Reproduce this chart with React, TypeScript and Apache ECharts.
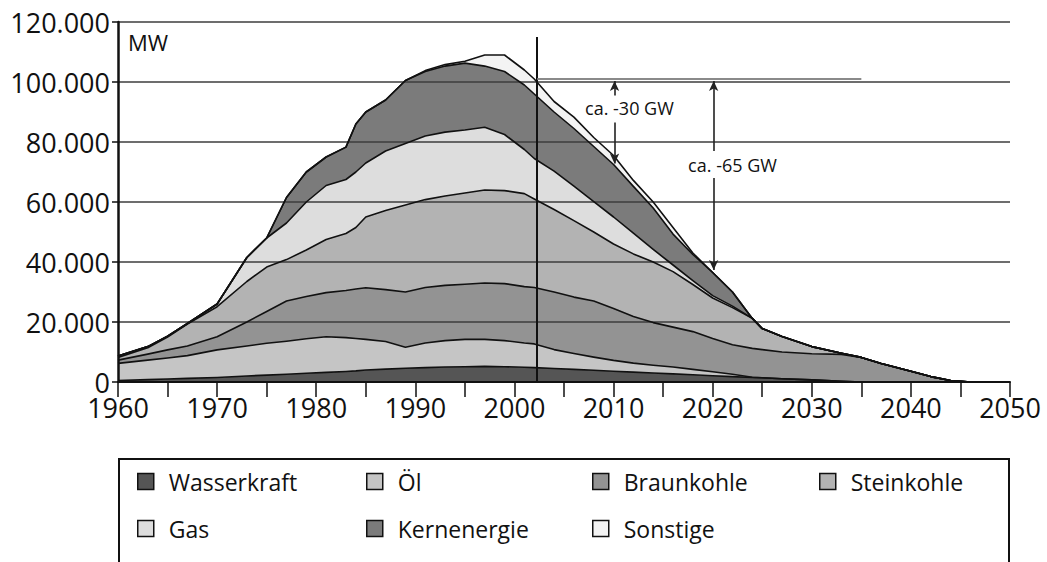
import React, { useEffect, useRef } from "react";
import * as echarts from "echarts";

const years = [1960, 1963, 1965, 1967, 1970, 1973, 1975, 1977, 1979, 1981, 1983, 1984, 1985, 1987, 1989,
  1991, 1993, 1995, 1997, 1999, 2001, 2002,
  2004, 2006, 2008, 2010, 2012, 2014, 2016, 2018, 2020, 2022, 2024,
  2025, 2027, 2030, 2033,
  2035, 2037, 2040, 2042, 2044, 2046, 2050];

const wasserkraft = [500, 800, 1000, 1200, 1500, 2000, 2300, 2600, 2900, 3200, 3500, 3700, 4000, 4300, 4600,
  4800, 5000, 5100, 5200, 5100, 4900, 4800,
  4500, 4200, 3900, 3600, 3300, 3000, 2700, 2400, 2100, 1800, 1500,
  1400, 1100, 700, 200,
  0, 0, 0, 0, 0, 0, 0];

const oel = [5700, 6500, 7000, 7600, 9200, 10000, 10600, 11000, 11500, 11900, 11300, 10800, 10200, 9200, 7000,
  8200, 8800, 9100, 9000, 8700, 8100, 7900,
  6300, 5300, 4400, 3600, 3000, 2600, 2300, 1800, 1300, 800, 100,
  0, 0, 0, 0,
  0, 0, 0, 0, 0, 0, 0];

const braunkohle = [1100, 2000, 2700, 3200, 4400, 8000, 10600, 13400, 14100, 14700, 15700, 16500, 17200, 17300, 18400,
  18500, 18400, 18400, 18800, 19000, 18800, 18800,
  19200, 18800, 18700, 17300, 15500, 14200, 13300, 12600, 11100, 9800, 9600,
  9400, 8900, 8700, 9000,
  8200, 6200, 3600, 1800, 500, 0, 0];

const steinkohle = [900, 2100, 4300, 7300, 10000, 13500, 14800, 13800, 15500, 17700, 19000, 20500, 23600, 26400, 29000,
  29300, 29800, 30400, 31000, 31000, 31000, 29500,
  27500, 25500, 23000, 21500, 20900, 20200, 18500, 15700, 13500, 12400, 10000,
  7000, 5200, 2400, 400,
  0, 0, 0, 0, 0, 0, 0];

const gas = [500, 400, 300, 200, 900, 8000, 9700, 12200, 16000, 18000, 18000, 18500, 18000, 19800, 20500,
  21200, 21300, 21000, 20900, 18700, 14700, 13500,
  12800, 11500, 10100, 9000, 6900, 4200, 2200, 1300, 800, 500, 0,
  0, 0, 0, 0,
  0, 0, 0, 0, 0, 0, 0];

const kernenergie = [0, 0, 0, 0, 0, 0, 0, 8500, 10000, 9500, 10800, 16000, 17000, 17000, 21000,
  21500, 22000, 22300, 20400, 21000, 21500, 21500,
  19700, 19200, 18400, 17500, 15600, 13800, 10300, 8700, 7700, 4700, 0,
  0, 0, 0, 0,
  0, 0, 0, 0, 0, 0, 0];

const sonstige = [0, 0, 0, 0, 0, 0, 0, 0, 0, 0, 0, 0, 0, 0, 0,
  300, 500, 600, 3700, 5500, 5000, 5000,
  3500, 3800, 3000, 3000, 2000, 2000, 2200, 500, 0, 0, 0,
  0, 0, 0, 0,
  0, 0, 0, 0, 0, 0, 0];

const seriesNames = ["Wasserkraft", "Öl", "Braunkohle", "Steinkohle", "Gas", "Kernenergie", "Sonstige"];
const seriesValues = [wasserkraft, oel, braunkohle, steinkohle, gas, kernenergie, sonstige];
const seriesColors = ["#555555", "#c5c5c5", "#939393", "#b3b3b3", "#dddddd", "#7b7b7b", "#f3f3f3"];

// annotations (year, MW)
const todayYear = 2002.3;
const verticalTop = 115000;
const referenceLevel = 101000;
const referenceEnd = 2035;
const arrow30 = { year: 2010.1, upFrom: 95500, upTo: 100300, downFrom: 86500, downTo: 72800, labelYear: 2011.6, labelValue: 91300, text: "ca. -30 GW" };
const arrow65 = { year: 2020.1, upFrom: 77000, upTo: 100300, downFrom: 68000, downTo: 37300, labelYear: 2022.0, labelValue: 72300, text: "ca. -65 GW" };

const FONT = "'Open Sans', 'DejaVu Sans', sans-serif";

function fmtDe(v: number): string {
  const s = String(Math.round(v));
  return s.replace(/\B(?=(\d{3})+(?!\d))/g, ".");
}

export default function App() {
  const ref = useRef<HTMLDivElement>(null);
  useEffect(() => {
    if (!ref.current) return;
    const chart = echarts.init(ref.current, null, { renderer: "svg" });

    // value first so that the stack is computed on the value dimension
    const pts = (k: number) => years.map((y, i) => [seriesValues[k][i], y]);

    const areaSeries = seriesNames.map((name, k) => ({
      name,
      type: "line",
      stack: "area",
      symbol: "none",
      showSymbol: false,
      z: 2,
      color: seriesColors[k],
      itemStyle: { color: seriesColors[k] },
      lineStyle: { width: 0, color: seriesColors[k] },
      areaStyle: { color: seriesColors[k], opacity: 1 },
      encode: { x: 1, y: 0 },
      data: pts(k),
      silent: true,
    }));

    const lineSeries = seriesNames.map((name, k) => ({
      name: name + "_line",
      type: "line",
      stack: "lines",
      symbol: "none",
      showSymbol: false,
      z: 4,
      lineStyle: { width: 1.6, color: "#111", join: "round" },
      encode: { x: 1, y: 0 },
      data: pts(k),
      silent: true,
    }));

    const arrowLine = (x: number, a: number, b: number) => [
      { coord: [x, a], symbol: "none", lineStyle: { color: "#222", width: 1.6, type: "solid" } },
      { coord: [x, b], symbol: "arrow", symbolSize: [7, 10] },
    ];

    const annotSeries = {
      name: "annot",
      type: "line",
      z: 6,
      data: [],
      markLine: {
        silent: true,
        animation: false,
        label: { show: false },
        symbol: ["none", "none"],
        data: [
          [
            { coord: [todayYear, 0], symbol: "none", lineStyle: { color: "#111", width: 2, type: "solid" } },
            { coord: [todayYear, verticalTop], symbol: "none" },
          ],
          [
            { coord: [todayYear, referenceLevel], symbol: "none", lineStyle: { color: "#8a8a8a", width: 2, type: "solid" } },
            { coord: [referenceEnd, referenceLevel], symbol: "none" },
          ],
          arrowLine(arrow30.year, arrow30.upFrom, arrow30.upTo),
          arrowLine(arrow30.year, arrow30.downFrom, arrow30.downTo),
          arrowLine(arrow65.year, arrow65.upFrom, arrow65.upTo),
          arrowLine(arrow65.year, arrow65.downFrom, arrow65.downTo),
        ],
      },
    };

    const legendCols = [137, 366, 592, 819];
    const legendRows = [470, 517];
    const legends = seriesNames.map((name, k) => ({
      show: true,
      data: [name],
      left: legendCols[k % 4] - 5,
      top: legendRows[Math.floor(k / 4)] - 5,
      icon: "rect",
      itemWidth: 16,
      itemHeight: 16,
      selectedMode: false,
      itemStyle: { borderColor: "#111", borderWidth: 1.5 },
      textStyle: { fontFamily: FONT, fontSize: 23, color: "#111", padding: [0, 0, 0, 10] },
    }));

    chart.setOption({
      animation: false,
      backgroundColor: "#ffffff",
      textStyle: { fontFamily: FONT },
      grid: { left: 118, right: 37, top: 22, bottom: 180, containLabel: false },
      legend: legends,
      xAxis: {
        type: "value",
        min: 1960,
        max: 2050,
        interval: 10,
        z: 5,
        axisLine: { show: true, onZero: false, lineStyle: { color: "#111", width: 2 } },
        axisTick: { show: true, length: 15, lineStyle: { color: "#111", width: 1.5 } },
        minorTick: { show: true, splitNumber: 2, length: 15, lineStyle: { color: "#111", width: 1.5 } },
        splitLine: { show: false },
        axisLabel: { fontFamily: FONT, fontSize: 27, color: "#111", margin: 12, formatter: (v: number) => String(v) },
      },
      yAxis: {
        type: "value",
        min: 0,
        max: 120000,
        interval: 20000,
        z: 3,
        axisLine: { show: true, lineStyle: { color: "#111", width: 2.5 } },
        axisTick: { show: true, length: 6, lineStyle: { color: "#111", width: 1.5 } },
        splitLine: { show: true, lineStyle: { color: "#3c3c3c", width: 1.5 } },
        axisLabel: { fontFamily: FONT, fontSize: 27, color: "#111", margin: 8, formatter: (v: number) => fmtDe(v) },
      },
      series: [...areaSeries, ...lineSeries, annotSeries],
    });

    const p30 = chart.convertToPixel({ gridIndex: 0 }, [arrow30.labelYear, arrow30.labelValue]) as number[];
    const p65 = chart.convertToPixel({ gridIndex: 0 }, [arrow65.labelYear, arrow65.labelValue]) as number[];
    const pMW = chart.convertToPixel({ gridIndex: 0 }, [1961, 113300]) as number[];

    chart.setOption({
      graphic: [
        {
          type: "text", x: pMW[0], y: pMW[1], z: 10,
          style: { text: "MW", font: `22px ${FONT}`, fill: "#111", align: "left", verticalAlign: "middle" },
        },
        {
          type: "text", x: p30[0], y: p30[1], z: 10,
          style: { text: arrow30.text, font: `18px ${FONT}`, fill: "#111", align: "center", verticalAlign: "middle" },
        },
        {
          type: "text", x: p65[0], y: p65[1], z: 10,
          style: { text: arrow65.text, font: `18px ${FONT}`, fill: "#111", align: "center", verticalAlign: "middle" },
        },
        {
          type: "rect", z: 1,
          shape: { x: 119, y: 459, width: 890, height: 160 },
          style: { fill: "none", stroke: "#111", lineWidth: 2 },
        },
      ],
    });

    return () => chart.dispose();
  }, []);

  return (
    <div
      ref={ref}
      style={{ position: "fixed", left: 0, top: 0, width: 1047, height: 562, background: "#fff" }}
    />
  );
}
